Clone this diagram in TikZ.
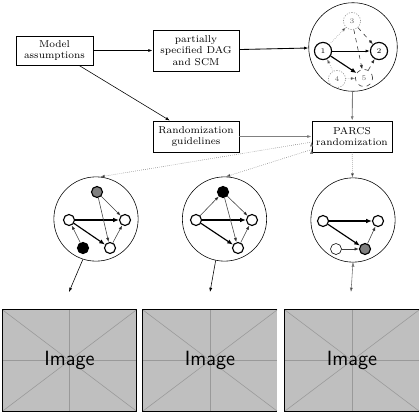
\documentclass[tikz,border=0pt]{standalone}
\usepackage{amsmath}
\usepackage{amsfonts}
\usetikzlibrary{arrows.meta}

\tikzset{
    box/.style={draw=black, semithick, align=center, font=\scriptsize, inner sep=1pt},
    dag/.style={shape=circle, draw=black, thin, minimum size=59pt, inner sep=0pt},
    bigvar/.style={shape=circle, draw=black, thick, minimum size=12pt, inner sep=0pt, font=\tiny},
    smallvar/.style={shape=circle, draw=black, thick, minimum size=7.7pt, inner sep=0pt, fill=white},
    hidden/.style={draw=black!45, densely dotted, thin},
    weak/.style={draw=black!80, dashed, thin},
    arr/.style={-{Latex[length=3pt,width=2.2pt]}},
    strong/.style={-{Latex[length=4pt,width=3.2pt]}, thick},
    thinarr/.style={arr, thin, draw=black!75},
    imgbox/.style={fill=black!25, minimum width=93.5pt, minimum height=70.7pt, inner sep=0pt,
        font=\Large\sffamily,
        path picture={
            \draw[black!40, thin] (path picture bounding box.north west) -- (path picture bounding box.south east);
            \draw[black!40, thin] (path picture bounding box.south west) -- (path picture bounding box.north east);
            \draw[black!40, thin] (path picture bounding box.north) -- (path picture bounding box.south);
            \draw[black!40, thin] (path picture bounding box.west) -- (path picture bounding box.east);
        }}
}

\begin{document}
\begin{tikzpicture}[x=0.7pt, y=-0.7pt]
        \useasboundingbox (0,0) rectangle (420,420);

        %boxes
        \node[box, minimum width=53.9pt, minimum height=20.3pt] (model) at (54.5,50.5) {Model\\assumptions};
        \node[box, minimum width=60.2pt, minimum height=28.7pt] (partial) at (196,50.5) {partially\\specified DAG\\and SCM};
        \node[box, minimum width=60.2pt, minimum height=21.7pt] (guide) at (196,136.5) {Randomization\\guidelines};
        \node[box, minimum width=56pt, minimum height=21.7pt] (parcs) at (352,136.5) {PARCS\\randomization};

        %partially specified graph
        \node[dag, minimum size=62pt] (dagT) at (353,47) {};
        \node[bigvar] (t1) at (323,51) {1};
        \node[bigvar] (t2) at (379,51) {2};
        \node[bigvar, hidden, text=black!60] (t3) at (352,21) {3};
        \node[bigvar, hidden, text=black!60] (t4) at (337,79) {4};
        \node[bigvar, weak, text=black!60] (t5) at (364,78) {5};

        \path[arr, semithick] (t1) edge (t2);
        \path[strong] (t1) edge (t5);
        \path[arr, hidden] (t1) edge (t3);
        \path[arr, weak] (t3) edge (t2);
        \path[arr, weak] (t3) edge (t5);
        \path[arr, hidden] (t4) edge (t1);
        \path[arr, hidden] (t4) edge (t5);
        \path[arr, weak] (t5) edge (t2);

        %first sample
        \node[dag] (dagL) at (96,219) {};
        \node[smallvar] (l1) at (69,220) {};
        \node[smallvar] (l2) at (125,220) {};
        \node[smallvar, fill=black!50] (l3) at (97,192) {};
        \node[smallvar, fill=black] (l4) at (83,248) {};
        \node[smallvar] (l5) at (110,248) {};

        \path[strong] (l1) edge (l2);
        \path[strong] (l1) edge (l5);
        \path[thinarr] (l3) edge (l2);
        \path[thinarr] (l3) edge (l5);
        \path[thinarr] (l4) edge (l1);
        \path[thinarr] (l5) edge (l2);

        %second sample
        \node[dag] (dagM) at (224.5,219) {};
        \node[smallvar] (m1) at (196,220) {};
        \node[smallvar] (m2) at (252,220) {};
        \node[smallvar, fill=black] (m3) at (223,192) {};
        \node[smallvar] (m5) at (238,248) {};

        \path[strong] (m1) edge (m2);
        \path[strong] (m1) edge (m5);
        \path[thinarr] (m1) edge (m3);
        \path[thinarr] (m3) edge (m2);
        \path[thinarr] (m3) edge (m5);
        \path[thinarr] (m5) edge (m2);

        %third sample
        \node[dag] (dagR) at (353,220) {};
        \node[smallvar] (r1) at (323,221) {};
        \node[smallvar] (r2) at (378,221) {};
        \node[smallvar, thin] (r4) at (336,249) {};
        \node[smallvar, fill=black!50] (r5) at (365,249) {};

        \path[strong] (r1) edge (r2);
        \path[strong] (r1) edge (r5);
        \path[thinarr] (r4) edge (r5);
        \path[thinarr] (r5) edge (r2);

        %images
        \node[imgbox] (imgL) at (69.5,360.5) {Image};
        \node[imgbox, minimum width=93.8pt] (imgM) at (210,360.5) {Image};
        \node[imgbox, minimum width=93.8pt] (imgR) at (352,360.5) {Image};
        \draw[semithick] (imgL.north west) rectangle (imgL.south east);
        \draw[semithick] (imgM.north east) -- (imgM.north west) -- (imgM.south west) -- (imgM.south east);
        \draw[semithick] (imgR.north east) -- (imgR.north west) -- (imgR.south west) -- (imgR.south east);

        \coordinate (endL) at (69,292);
        \coordinate (endM) at (210,292);
        \coordinate (endR) at (351,292);

        %main flow
        \path[arr, semithick] (model) edge (partial);
        \path[arr, semithick] (partial) edge (dagT);
        \path[arr, thin] (model) edge (guide);
        \path[arr, thick, draw=black!50] (guide) edge (parcs);
        \path[arr, semithick, draw=black!50] (dagT) edge (parcs);

        \path[arr, densely dotted, thin, draw=black!55] ([yshift=-3.9pt]parcs.west) edge (dagL.84);
        \path[arr, densely dotted, thin, draw=black!55] ([yshift=2pt]parcs.south west) edge (dagM.88);
        \path[arr, densely dotted, thin, draw=black!55] (parcs) edge (dagR);

        \path[arr, thin] (dagL.252) edge (endL);
        \path[arr, thin] (dagM.258) edge (endM);
        \path[arr, thin, draw=black!55] (dagR.270) edge (endR);

\end{tikzpicture}
\end{document}
